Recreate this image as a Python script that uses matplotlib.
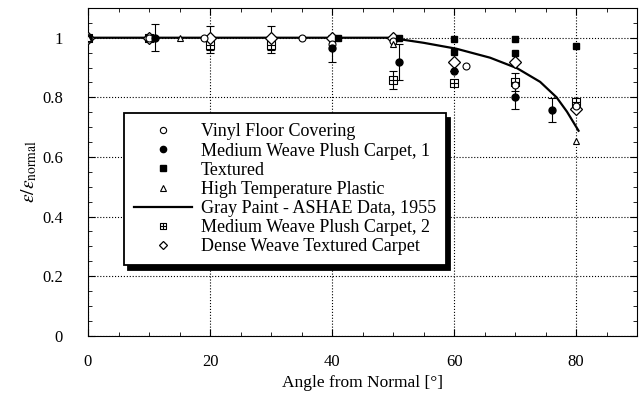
import numpy as np
import matplotlib
matplotlib.use('Agg')
import matplotlib.pyplot as plt
from matplotlib.path import Path
from matplotlib.ticker import MultipleLocator

plt.rcParams['font.family'] = ['Liberation Serif', 'DejaVu Serif']
plt.rcParams['mathtext.fontset'] = 'stix'
plt.rcParams['font.size'] = 12

# ---- data ----
# Vinyl Floor Covering
vinyl_x = [0, 10, 19, 35, 40, 50, 62, 70, 80]
vinyl_y = [1.0, 1.0, 1.0, 1.0, 0.98, 0.99, 0.905, 0.84, 0.77]

# Medium Weave Plush Carpet, 1
mw1_x = [0, 11, 40, 51, 60, 70, 76]
mw1_y = [1.0, 1.0, 0.965, 0.918, 0.889, 0.80, 0.757]
mw1_err = [0.0, 0.045, 0.045, 0.06, 0.0, 0.04, 0.04]

# Textured
tex_x = [0, 41, 51, 60, 60, 70, 70, 80]
tex_y = [1.0, 1.0, 1.0, 0.995, 0.953, 0.995, 0.95, 0.972]

# High Temperature Plastic
htp_x = [0, 15, 50, 80]
htp_y = [1.0, 1.0, 0.98, 0.655]

# Gray Paint - ASHAE Data, 1955
gray_x = [0, 50, 51.1, 55, 60.4, 65.9, 70.3, 74.1, 76.8, 78.5, 80.4]
gray_y = [1.0, 1.0, 0.995, 0.983, 0.963, 0.933, 0.898, 0.852, 0.80, 0.752, 0.688]

# Medium Weave Plush Carpet, 2
mw2_x = [0, 10, 20, 30, 50, 60, 70, 80]
mw2_y = [1.0, 1.0, 0.975, 0.975, 0.858, 0.849, 0.85, 0.786]
mw2_err = [0.0, 0.0, 0.025, 0.025, 0.03, 0.0, 0.03, 0.0]

# Dense Weave Textured Carpet
dense_x = [0, 10, 20, 30, 40, 50, 60, 70, 80]
dense_y = [1.0, 1.0, 1.0, 1.0, 1.0, 1.0, 0.918, 0.918, 0.76]
dense_err = [0.0, 0.0, 0.04, 0.04, 0.0, 0.0, 0.0, 0.0, 0.0]

# 方框加十字的符號
box_plus = Path([(-1, -1), (1, -1), (1, 1), (-1, 1), (-1, -1),
                 (-1, 0), (1, 0), (0, -1), (0, 1)],
                [Path.MOVETO, Path.LINETO, Path.LINETO, Path.LINETO, Path.CLOSEPOLY,
                 Path.MOVETO, Path.LINETO, Path.MOVETO, Path.LINETO])

fig = plt.figure(figsize=(6.4, 3.96), dpi=100)
ax = fig.add_axes([0.1375, 0.152, 0.858, 0.828])

ebkw = dict(fmt='none', ecolor='black', elinewidth=0.8, capsize=3, capthick=0.8, zorder=2)
ax.errorbar(mw1_x, mw1_y, yerr=mw1_err, **ebkw)
ax.errorbar(mw2_x, mw2_y, yerr=mw2_err, **ebkw)
ax.errorbar(dense_x, dense_y, yerr=dense_err, **ebkw)

l_gray, = ax.plot(gray_x, gray_y, '-', color='black', lw=1.6, zorder=3,
                  label='Gray Paint - ASHAE Data, 1955')
l_mw2, = ax.plot(mw2_x, mw2_y, ls='none', marker=box_plus, ms=6, mfc='white', mec='black',
                 mew=0.8, zorder=4, label='Medium Weave Plush Carpet, 2')
l_dense, = ax.plot(dense_x, dense_y, ls='none', marker='D', ms=6, mfc='white', mec='black',
                   mew=0.9, zorder=4, label='Dense Weave Textured Carpet')
l_vinyl, = ax.plot(vinyl_x, vinyl_y, ls='none', marker='o', ms=5, mfc='white', mec='black',
                   mew=0.8, zorder=5, label='Vinyl Floor Covering')
l_mw1, = ax.plot(mw1_x, mw1_y, ls='none', marker='o', ms=5, color='black', zorder=5,
                 label='Medium Weave Plush Carpet, 1')
l_tex, = ax.plot(tex_x, tex_y, ls='none', marker='s', ms=5, color='black', zorder=5,
                 label='Textured')
l_htp, = ax.plot(htp_x, htp_y, ls='none', marker='^', ms=5, mfc='white', mec='black',
                 mew=0.8, zorder=5, label='High Temperature Plastic')

ax.set_xlim(0, 90)
ax.set_ylim(0, 1.1)
ax.xaxis.set_major_locator(MultipleLocator(20))
ax.xaxis.set_minor_locator(MultipleLocator(5))
ax.yaxis.set_minor_locator(MultipleLocator(0.05))
ax.set_yticks([0, 0.2, 0.4, 0.6, 0.8, 1.0])
ax.set_yticklabels(['0', '0.2', '0.4', '0.6', '0.8', '1'])
ax.tick_params(which='both', direction='in', top=True, right=True, labelsize=12)
ax.tick_params(which='major', length=5)
ax.tick_params(which='minor', length=3)
ax.tick_params(axis='x', which='major', pad=13)
ax.tick_params(axis='y', which='major', pad=18)
ax.grid(True, which='major', ls=':', color='black', lw=0.8)
ax.set_axisbelow(True)

ax.set_xlabel('Angle from Normal [°]', fontsize=12.5, labelpad=4)
ax.set_ylabel(r'$\varepsilon/\varepsilon_{\mathrm{normal}}$', fontsize=14, labelpad=2)

handles = [l_vinyl, l_mw1, l_tex, l_htp, l_gray, l_mw2, l_dense]
leg = ax.legend(handles=handles, loc='upper left', bbox_to_anchor=(0.0656, 0.678),
                frameon=True, fancybox=False, shadow={'color': 'black', 'alpha': 1, 'ox': 3, 'oy': -3},
                edgecolor='black', framealpha=1, borderaxespad=0, handlelength=3.2,
                handletextpad=0.5, labelspacing=0.12, borderpad=0.55, fontsize=13)
leg.get_frame().set_linewidth(1.3)
for h in leg.legend_handles:
    h.set_markersize(4.5)

fig.savefig('out.png', dpi=100)
